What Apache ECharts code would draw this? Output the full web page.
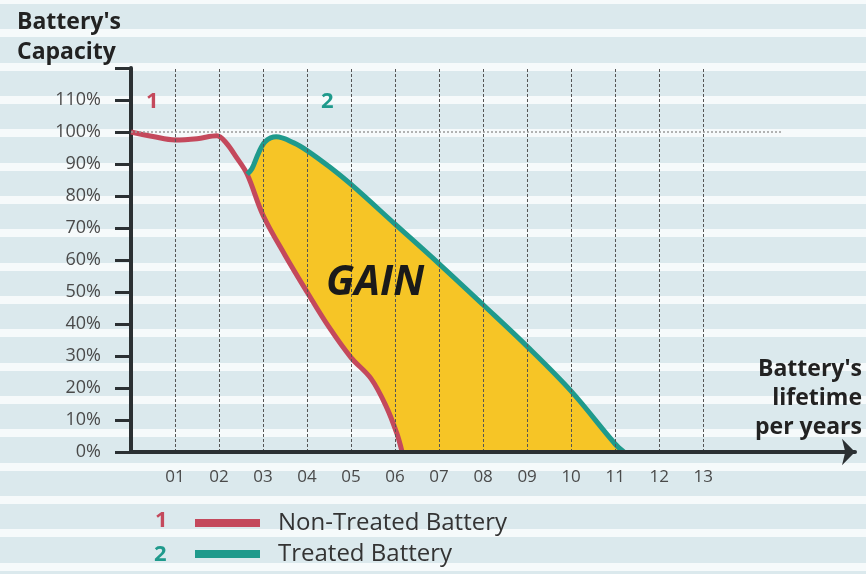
<!DOCTYPE html>
<html>
<head>
<meta charset="utf-8">
<script src="https://cdn.jsdelivr.net/npm/echarts@6/dist/echarts.min.js"></script>
<style>
html, body { margin: 0; padding: 0; }
body {
    background: repeating-linear-gradient(to bottom,
        #f6fafb 0px, #f6fafb 4px,
        #dbe9ed 4px, #dbe9ed 29.33px,
        #f6fafb 29.33px, #f6fafb 33.33px);
}
#chart { width: 866px; height: 574px; }
</style>
</head>
<body>
<div id="chart"></div>
<script>
// values (years, % capacity)
var nonTreatedYears    = [0, 0.5, 1, 1.5, 1.95, 2.15, 2.4, 2.64, 3, 3.5, 4, 4.5, 5, 5.45, 5.8, 6.04, 6.16];
var nonTreatedCapacity = [100, 98.6, 97.5, 97.9, 98.8, 96.8, 92, 86.8, 74, 61.5, 50, 39, 29.5, 23, 14.2, 5.8, 0];
var treatedYears       = [2.64, 2.75, 2.9, 3.05, 3.3, 3.7, 4, 4.5, 5, 6, 7, 8, 9, 10, 11, 11.2];
var treatedCapacity    = [86.8, 88.6, 93.5, 97, 98.5, 96.6, 94.2, 89.2, 83.6, 71.2, 58.8, 46, 33, 19, 2.5, 0];
var yearTicks = [1, 2, 3, 4, 5, 6, 7, 8, 9, 10, 11, 12, 13];
var seriesNames = ['Non-Treated Battery', 'Treated Battery'];

var RED = '#c4495c';
var TEAL = '#1f9a8c';
var GOLD = '#f6c526';
var INK = '#2b3033';

function pairs(xs, ys) {
    return xs.map(function(x, i) { return [x, ys[i]]; });
}

var chart = echarts.init(document.getElementById('chart'));

var gridLines = yearTicks.map(function(y) {
    return { xAxis: y, lineStyle: { color: '#555', width: 1, type: [3, 2] } };
});
gridLines.push([
    { coord: [0, 100], lineStyle: { color: '#9a9a9a', width: 1.5, type: [2, 2] } },
    { coord: [14.8, 100] }
]);

var option = {
    animation: false,
    backgroundColor: 'transparent',
    grid: { left: 131, right: 11, top: 68, bottom: 122 },
    xAxis: {
        type: 'value', min: 0, max: 16.45, interval: 1, z: 10,
        splitLine: { show: false },
        axisTick: { show: false },
        axisLine: {
            symbol: ['none', 'arrow'], symbolSize: [20, 13],
            lineStyle: { color: INK, width: 4 }
        },
        axisLabel: {
            margin: 17, color: '#4a4a4a', fontSize: 17, fontFamily: 'Open Sans',
            formatter: function(v) {
                return yearTicks.indexOf(v) >= 0 ? (v < 10 ? '0' + v : '' + v) : '';
            }
        }
    },
    yAxis: {
        type: 'value', min: 0, max: 120, interval: 10,
        splitLine: { show: false },
        axisLine: { lineStyle: { color: INK, width: 4 } },
        axisTick: { length: 16, lineStyle: { color: INK, width: 3 } },
        axisLabel: {
            margin: 30, color: '#4a4a4a', fontSize: 18, fontFamily: 'Open Sans',
            formatter: function(v) { return v <= 110 ? v + '%' : ''; }
        }
    },
    legend: {
        data: seriesNames,
        orient: 'vertical', left: 190, top: 506,
        icon: 'rect', itemWidth: 65, itemHeight: 8, itemGap: 7,
        textStyle: { fontSize: 24, color: '#333', fontFamily: 'Open Sans', padding: [0, 0, 0, 13] }
    },
    graphic: [
        { type: 'text', left: 17, top: 7, style: { text: "Battery's\nCapacity", font: 'bold 23px "Open Sans"', fill: '#222', lineHeight: 30 } },
        { type: 'text', right: 4, top: 355, style: { text: "Battery's\nlifetime\nper years", font: 'bold 23px "Open Sans"', fill: '#222', lineHeight: 29, textAlign: 'right' } },
        { type: 'text', left: 326, top: 263, z: 20, style: { text: 'GAIN', font: 'italic bold 41px "Open Sans"', fill: '#1a1a1a' } },
        { type: 'text', left: 146, top: 91, style: { text: '1', font: 'bold 22px "Open Sans"', fill: RED } },
        { type: 'text', left: 321, top: 91, style: { text: '2', font: 'bold 22px "Open Sans"', fill: TEAL } },
        { type: 'text', left: 155, top: 510, style: { text: '1', font: 'bold 22px "Open Sans"', fill: RED } },
        { type: 'text', left: 154, top: 544, style: { text: '2', font: 'bold 22px "Open Sans"', fill: TEAL } }
    ],
    series: [
        {
            // gain area between the two curves
            name: 'gain', type: 'custom', z: 1, silent: true,
            data: [[treatedYears[0], treatedCapacity[0]]],
            renderItem: function(params, api) {
                var pts = [];
                for (var i = 0; i < treatedYears.length; i++) {
                    pts.push(api.coord([treatedYears[i], treatedCapacity[i]]));
                }
                for (var j = nonTreatedYears.length - 1; j >= 0; j--) {
                    if (nonTreatedYears[j] >= treatedYears[0]) {
                        pts.push(api.coord([nonTreatedYears[j], nonTreatedCapacity[j]]));
                    }
                }
                return { type: 'polygon', shape: { points: pts }, style: { fill: GOLD } };
            }
        },
        {
            name: 'grid', type: 'line', z: 2, data: [], silent: true,
            markLine: { symbol: 'none', silent: true, label: { show: false }, data: gridLines }
        },
        {
            name: seriesNames[0], type: 'line', z: 3, smooth: 0.35,
            showSymbol: false, color: RED,
            lineStyle: { width: 5, color: RED },
            data: pairs(nonTreatedYears, nonTreatedCapacity)
        },
        {
            name: seriesNames[1], type: 'line', z: 3, smooth: 0.35,
            showSymbol: false, color: TEAL,
            lineStyle: { width: 5, color: TEAL },
            data: pairs(treatedYears, treatedCapacity)
        }
    ]
};

chart.setOption(option);
</script>
</body>
</html>
